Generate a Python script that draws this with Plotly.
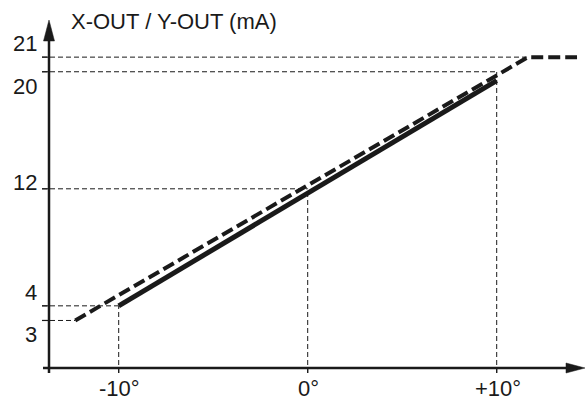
import plotly.graph_objects as go

# ---------------- data ----------------
x_tick_vals = [-10, 0, 10]
x_tick_text = ["-10°", "0°", "+10°"]
y_tick_vals = [21, 20, 12, 4, 3]
y_tick_text = ["21", "20", "12", "4", "3"]

# solid characteristic (nominal)
solid_x = [-10, 10]
solid_y = [4.0, 19.4]
# dashed characteristic (with saturation)
dash_x = [-12.3, 11.66, 14.25]
dash_y = [3.0, 21.0, 21.0]

# guide points (angle, mA) where dashed reference lines end
guide_h = [(11.66, 21), (10, 20), (0, 12), (-10, 4), (-12.3, 3)]
guide_v = [(-10, 4), (0, 12), (10, 20)]

y_label_shift = [14, -15, 6, 13, -14]  # label offset in px (style)

axis_title = "X-OUT / Y-OUT (mA)"

# ---------------- geometry (pixel <-> data) ----------------
W, H = 585, 401
PX_PER_DEG = 18.9
X_ZERO_PX = 307.7
PX_PER_MA = 14.63
Y12_PX = 188.8


def dx(px):
    return (px - X_ZERO_PX) / PX_PER_DEG


def dy(py):
    return 12 + (Y12_PX - py) / PX_PER_MA


x_range = [dx(0), dx(W)]
y_range = [dy(H), dy(0)]

axis_x = dx(49)        # y-axis position
axis_y = dy(368)       # x-axis position
y_axis_bottom = dy(373)
y_axis_top = dy(20)
x_axis_left = dx(43)
x_axis_right = dx(585)
tick_len_x = 7 / PX_PER_DEG
tick_len_y = 5 / PX_PER_MA

ink = "#1a1a1a"
font = dict(family="Liberation Sans, Arial, sans-serif", size=22, color=ink)

fig = go.Figure()

shapes = []
# dashed guide lines
for (gx, gy) in guide_h:
    shapes.append(dict(type="line", xref="x", yref="y", x0=axis_x - tick_len_x, x1=gx,
                       y0=gy, y1=gy, line=dict(color=ink, width=1, dash="5px,3px")))
for (gx, gy) in guide_v:
    shapes.append(dict(type="line", xref="x", yref="y", x0=gx, x1=gx,
                       y0=axis_y - tick_len_y, y1=gy, line=dict(color=ink, width=1, dash="5px,3px")))
# small solid ticks
for v in y_tick_vals:
    shapes.append(dict(type="line", xref="x", yref="y", x0=axis_x - tick_len_x, x1=axis_x,
                       y0=v, y1=v, line=dict(color=ink, width=1.2)))
for v in x_tick_vals:
    shapes.append(dict(type="line", xref="x", yref="y", x0=v, x1=v,
                       y0=axis_y - tick_len_y, y1=axis_y, line=dict(color=ink, width=1.2)))

# axes
arrow_len_y = 21 / PX_PER_MA
arrow_half_w_y = 5.5 / PX_PER_DEG
shapes.append(dict(type="line", xref="x", yref="y", x0=axis_x, x1=axis_x,
                   y0=y_axis_bottom, y1=y_axis_top - arrow_len_y * 0.5,
                   line=dict(color=ink, width=2.5)))
shapes.append(dict(type="path", xref="x", yref="y",
                   path=f"M {axis_x},{y_axis_top} L {axis_x - arrow_half_w_y},{y_axis_top - arrow_len_y} "
                        f"L {axis_x + arrow_half_w_y},{y_axis_top - arrow_len_y} Z",
                   fillcolor=ink, line=dict(color=ink, width=0.5)))
arrow_len_x = 19 / PX_PER_DEG
arrow_half_w_x = 5 / PX_PER_MA
shapes.append(dict(type="line", xref="x", yref="y", x0=x_axis_left, x1=x_axis_right - arrow_len_x * 0.5,
                   y0=axis_y, y1=axis_y, line=dict(color=ink, width=2.5)))
shapes.append(dict(type="path", xref="x", yref="y",
                   path=f"M {x_axis_right},{axis_y} L {x_axis_right - arrow_len_x},{axis_y + arrow_half_w_x} "
                        f"L {x_axis_right - arrow_len_x},{axis_y - arrow_half_w_x} Z",
                   fillcolor=ink, line=dict(color=ink, width=0.5)))

# data lines
fig.add_trace(go.Scatter(x=solid_x, y=solid_y, mode="lines",
                         line=dict(color=ink, width=5), hoverinfo="skip", showlegend=False))
fig.add_trace(go.Scatter(x=dash_x, y=dash_y, mode="lines",
                         line=dict(color=ink, width=4, dash="12px,5px"), hoverinfo="skip", showlegend=False))

annotations = []
for v, t, s in zip(y_tick_vals, y_tick_text, y_label_shift):
    annotations.append(dict(x=axis_x, y=v, xref="x", yref="y", text=t, showarrow=False,
                            xanchor="right", yanchor="middle", xshift=-10, yshift=s, font=font))
for v, t in zip(x_tick_vals, x_tick_text):
    annotations.append(dict(x=v, y=axis_y, xref="x", yref="y", text=t, showarrow=False,
                            xanchor="center", yanchor="middle", xshift=1, yshift=-20, font=font))
annotations.append(dict(x=axis_x, y=y_axis_top, xref="x", yref="y", text=axis_title, showarrow=False,
                        xanchor="left", yanchor="middle", xshift=20, yshift=-1, font=font))

fig.update_layout(
    width=W, height=H,
    margin=dict(l=0, r=0, t=0, b=0),
    paper_bgcolor="white", plot_bgcolor="white",
    xaxis=dict(range=x_range, visible=False, fixedrange=True),
    yaxis=dict(range=y_range, visible=False, fixedrange=True),
    shapes=shapes, annotations=annotations,
)

fig.write_html("out.html", config={"displayModeBar": False},
               post_script="document.body.style.margin='0';document.body.style.overflow='hidden';")
